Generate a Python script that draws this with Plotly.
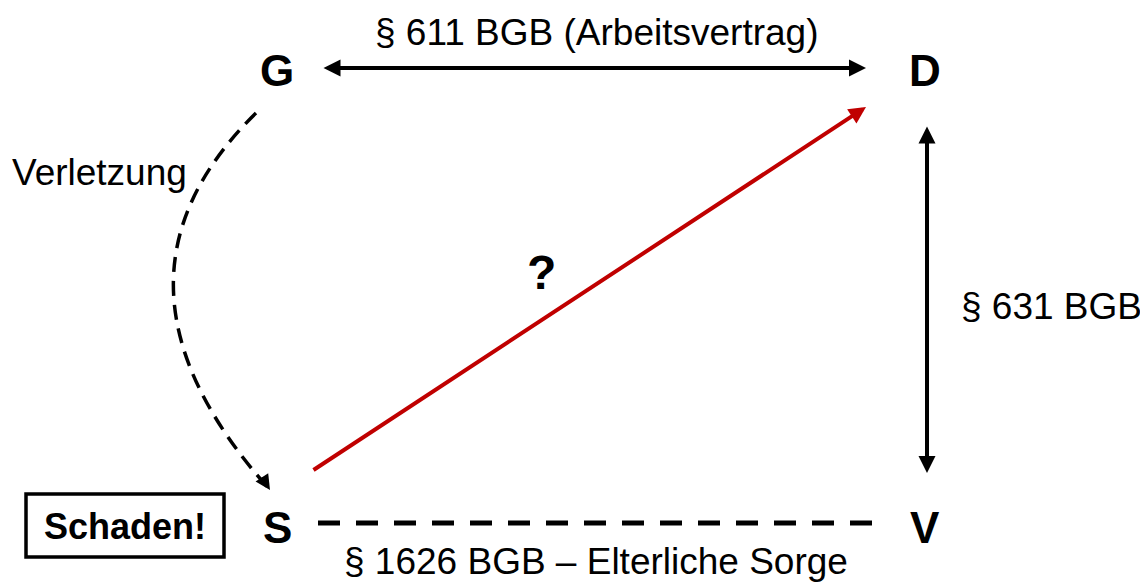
import plotly.graph_objects as go

# Nodes (diagram coordinates, pixel-like units)
node_labels = ["G", "D", "S", "V"]
node_x = [277, 925, 277, 925]
node_y = [70, 70, 527, 527]

# Relation labels
rel_labels = ["§ 611 BGB (Arbeitsvertrag)", "§ 631 BGB", "§ 1626 BGB – Elterliche Sorge", "Verletzung", "?"]
rel_x = [597, 1051, 596, 99, 541]
rel_y = [32, 306, 561, 172, 272]

# Straight arrows: (x0, y0) tail -> (x1, y1) head
arrow_x0 = [322, 927, 312]
arrow_y0 = [68, 125, 471]
arrow_x1 = [866, 927, 866]
arrow_y1 = [68, 473, 107]
arrow_both = [True, True, False]
arrow_color = ["#000000", "#000000", "#C00000"]

# Dashed line S - V
dash_x = [318, 882]
dash_y = [523, 523]

# Curved dashed arrow G -> S (quadratic bezier: start, control, end)
curve_x = [256, 84, 270]
curve_y = [113, 282, 490]

# Box "Schaden!"
box_x = [26, 224]
box_y = [494, 557]
box_label = "Schaden!"

FONT = "Liberation Sans, Arial, sans-serif"
OFF = 8  # page body margin

fig = go.Figure()

# dashed S-V line
fig.add_trace(go.Scatter(x=dash_x, y=dash_y, mode="lines",
                         line=dict(color="black", width=5, dash="22px,16px"),
                         hoverinfo="skip", showlegend=False))

shapes = []
path = f"M {curve_x[0]},{curve_y[0]} Q {curve_x[1]},{curve_y[1]} {curve_x[2]},{curve_y[2]}"
shapes.append(dict(type="path", path=path, xref="x", yref="y",
                   line=dict(color="black", width=3.5, dash="15px,9px")))
shapes.append(dict(type="rect", xref="x", yref="y", x0=box_x[0], x1=box_x[1],
                   y0=box_y[0], y1=box_y[1], line=dict(color="black", width=3.5)))

annotations = []
for x0, y0, x1, y1, both, col in zip(arrow_x0, arrow_y0, arrow_x1, arrow_y1, arrow_both, arrow_color):
    annotations.append(dict(x=x1, y=y1, ax=x0, ay=y0, xref="x", yref="y", axref="x", ayref="y",
                            text="", showarrow=True, arrowhead=2, arrowsize=0.85,
                            arrowwidth=4, arrowcolor=col,
                            arrowside="end+start" if both else "end",
                            standoff=0, startstandoff=0))
annotations.append(dict(x=curve_x[2], y=curve_y[2], ax=curve_x[2] - 9, ay=curve_y[2] - 14,
                        xref="x", yref="y", axref="x", ayref="y", text="", showarrow=True,
                        arrowhead=2, arrowsize=1.0, arrowwidth=3, arrowcolor="black",
                        standoff=0, startstandoff=0))

for t, x, y in zip(node_labels, node_x, node_y):
    annotations.append(dict(x=x, y=y, xref="x", yref="y", text=f"<b>{t}</b>", showarrow=False,
                            font=dict(family=FONT, size=44, color="black"),
                            xanchor="center", yanchor="middle"))

for t, x, y in zip(rel_labels, rel_x, rel_y):
    txt = f"<b>{t}</b>" if t == "?" else t
    annotations.append(dict(x=x, y=y, xref="x", yref="y", text=txt, showarrow=False,
                            font=dict(family=FONT, size=37 if t != "?" else 48, color="black"),
                            xanchor="center", yanchor="middle"))

annotations.append(dict(x=(box_x[0] + box_x[1]) / 2, y=(box_y[0] + box_y[1]) / 2 + 1, xref="x", yref="y",
                        text=f"<b>{box_label}</b>", showarrow=False,
                        font=dict(family=FONT, size=36, color="black"),
                        xanchor="center", yanchor="middle"))

fig.update_layout(width=1148 - OFF, height=583 - OFF, autosize=False,
                  margin=dict(l=0, r=0, t=0, b=0),
                  paper_bgcolor="white", plot_bgcolor="white",
                  shapes=shapes, annotations=annotations, showlegend=False,
                  xaxis=dict(range=[OFF, 1148], visible=False, fixedrange=True),
                  yaxis=dict(range=[583, OFF], visible=False, fixedrange=True))

fig.write_html("out.html")
